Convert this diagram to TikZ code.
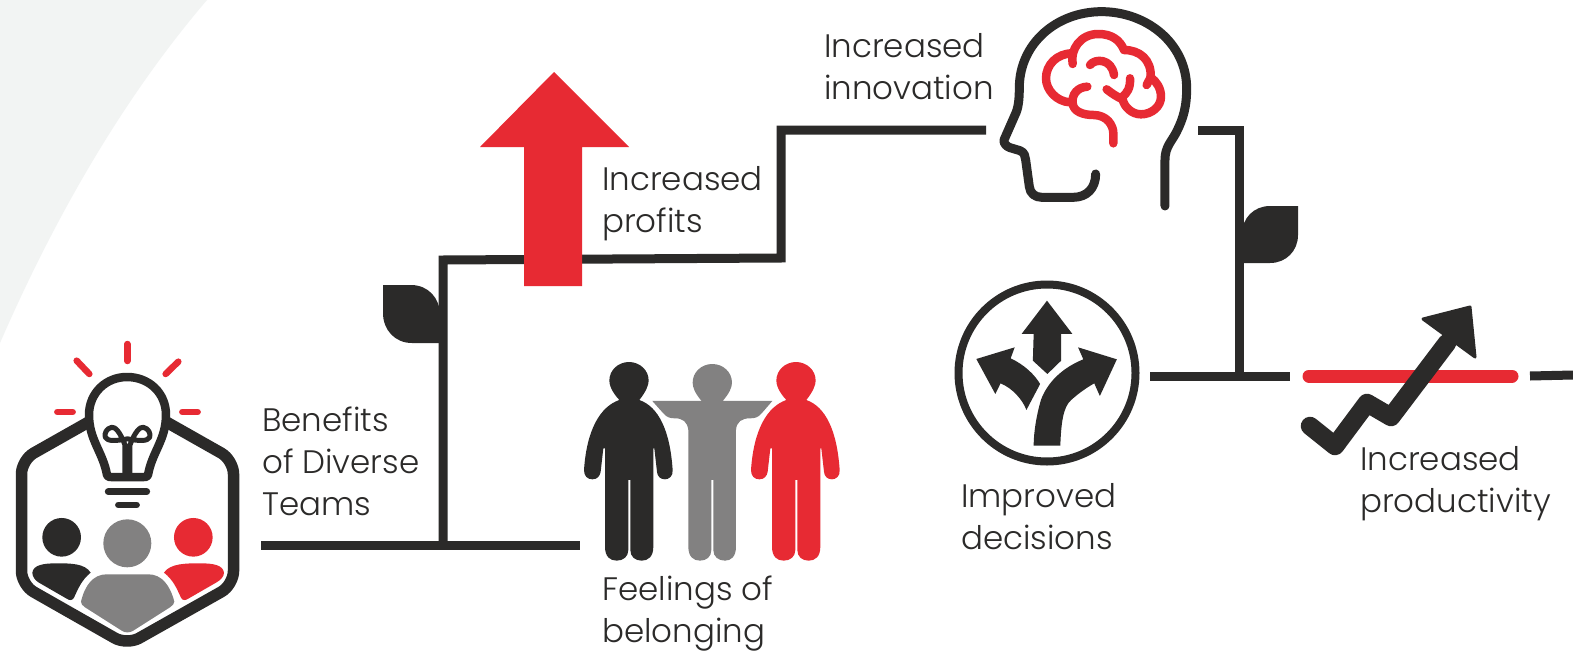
\documentclass[tikz,border=0pt]{standalone}
\usepackage{fontspec}
\setmainfont{Poppins Light}
\definecolor{ink}{HTML}{2B2A29}
\definecolor{accent}{HTML}{E72A33}
\definecolor{mid}{HTML}{828181}
\definecolor{paper}{HTML}{F2F4F3}
\newcommand{\personpath}{(148,150) .. controls (125,125) and (118,105) .. (118,92) .. controls (118,60) and (145,36) .. (177,36) .. controls (209,36) and (236,60) .. (236,92) .. controls (236,105) and (228,125) .. (208,150) .. controls (265,170) and (300,240) .. (308,360) .. controls (310,380) and (295,388) .. (285,388) .. controls (270,388) and (262,378) .. (261,365) -- (253,295) -- (250,295) -- (250,590) .. controls (250,620) and (235,632) .. (215,632) .. controls (195,632) and (181,620) .. (181,600) -- (181,390) -- (175,390) -- (175,600) .. controls (175,620) and (160,632) .. (140,632) .. controls (120,632) and (105,620) .. (105,590) -- (105,295) -- (100,295) -- (92,365) .. controls (90,378) and (82,388) .. (67,388) .. controls (52,388) and (42,378) .. (42,360) .. controls (50,240) and (90,170) .. (148,150) -- cycle}
\tikzset{
  conn/.style={draw=ink,line width=9pt},
  lbl/.style={anchor=north west,inner sep=0pt,align=left,text=ink,font=\fontsize{32.5}{42}\selectfont},
  ray/.style={draw=accent,line width=6.5pt,line cap=round},
  iconline/.style={draw=ink,line width=9pt,line cap=round,line join=round},
  brainline/.style={draw=accent,line width=8.5pt,line cap=round,line join=round},
  zoomA/.style={shift={(0,330)},x=0.3333pt,y=-0.3333pt},
  zoomB/.style={shift={(570,350)},x=0.3333pt,y=-0.3333pt},
  zoomC/.style={shift={(980,0)},x=0.3333pt,y=-0.3333pt},
  zoomD/.style={shift={(940,290)},x=0.4037pt,y=-0.3333pt},
}
\begin{document}
\begin{tikzpicture}[x=1pt,y=-1pt]
\useasboundingbox (0,0) rectangle (1573,661);
\fill[white] (0,0) rectangle (1573,661);
% background sweep
\fill[paper] (0,0) -- (207,0) .. controls (130,90) and (60,205) .. (0,343) -- cycle;

% connectors
\coordinate (start) at (261,545);
\coordinate (stub) at (580,545);
\coordinate (j1) at (443,545);
\coordinate (c1) at (443,260);
\coordinate (c2) at (781,258);
\coordinate (c3) at (781,130);
\coordinate (c4) at (986,130);
\coordinate (d1) at (1198,130);
\coordinate (d2) at (1239,130);
\coordinate (d3) at (1239,376);
\coordinate (e1) at (1150,376);
\coordinate (e2) at (1290,376);
\coordinate (r1) at (1309,376);
\coordinate (r2) at (1512,376);
\coordinate (f1) at (1530,376);
\coordinate (f2) at (1573,375);
\draw[conn] (start) -- (stub);
\draw[conn,line join=miter] (j1) -- (c1) -- (c2) -- (c3) -- (c4);
\draw[conn,line join=miter] (d1) -- (d2) -- (d3);
\draw[conn] (e1) -- (e2);
\draw[conn] (f1) -- (f2);
\draw[draw=accent,line width=13pt,line cap=round] (r1) -- (r2);

% leaves
\fill[ink] (383,285) -- (411,285) .. controls (428,285) and (440,298) .. (440,315) -- (440,343) -- (412,343) .. controls (395,343) and (383,330) .. (383,313) -- cycle;
\fill[ink] (1298,206) -- (1270,206) .. controls (1254,206) and (1242,218) .. (1242,234) -- (1242,263) -- (1270,263) .. controls (1286,263) and (1298,251) .. (1298,235) -- cycle;

% red arrow
\fill[accent] (554,72) -- (629,147) -- (582,147) -- (582,286) -- (524,286) -- (524,147) -- (480,147) -- cycle;

% hexagon icon
\draw[draw=ink,line width=11.5pt,rounded corners=14pt] (95,418.4) -- (21.5,460) -- (21.5,585) -- (127,645) -- (233.5,585) -- (233.5,460) -- (160,418.4);
\draw[draw=ink,line width=8.5pt,line join=round,fill=white] (107,475) .. controls (103,452) and (89,440) .. (89,415) .. controls (89,393) and (106,377) .. (127,377) .. controls (149,377) and (166,393) .. (166,415) .. controls (166,440) and (152,452) .. (148,475) .. controls (147,477) and (146,477) .. (144,477) -- (111,477) .. controls (109,477) and (108,477) .. (107,475) -- cycle;
\begin{scope}[zoomA]
\draw[draw=ink,line width=5pt,line join=round,line cap=round] (375,430) -- (375,345) .. controls (360,305) and (345,290) .. (335,292) .. controls (320,295) and (312,310) .. (316,322) .. controls (322,335) and (350,332) .. (375,328) .. controls (380,326) and (385,326) .. (390,328) .. controls (415,332) and (443,335) .. (449,322) .. controls (453,310) and (445,295) .. (430,292) .. controls (420,290) and (405,305) .. (390,345) -- (390,430);
\draw[draw=ink,line width=7pt,line cap=round] (325,485) -- (440,485);
\draw[draw=ink,line width=6.5pt,line cap=round] (355,525) -- (410,525);
\draw[ray] (382,42) -- (382,93);
\draw[ray] (230,92) -- (268,132);
\draw[ray] (535,95) -- (497,132);
\draw[ray] (172,246) -- (218,246);
\draw[ray] (547,246) -- (593,246);
\fill[ink] (185,622) circle[radius=58];
\fill[mid] (382,640) circle[radius=72];
\fill[accent] (580,622) circle[radius=58];
\fill[ink] (97,728) .. controls (100,705) and (130,700) .. (170,700) .. controls (210,700) and (255,700) .. (272,728) .. controls (245,750) and (235,775) .. (222,803) .. controls (218,812) and (208,812) .. (200,806) -- (115,757) .. controls (105,750) and (97,740) .. (97,728) -- cycle;
\fill[accent] (672,728) .. controls (669,705) and (640,700) .. (600,700) .. controls (560,700) and (510,700) .. (492,728) .. controls (520,750) and (530,775) .. (543,803) .. controls (547,812) and (557,812) .. (565,806) -- (650,757) .. controls (662,750) and (672,740) .. (672,728) -- cycle;
\fill[mid] (243,815) .. controls (255,765) and (280,733) .. (320,733) -- (445,733) .. controls (485,733) and (510,765) .. (523,815) .. controls (523,822) and (518,826) .. (510,832) -- (400,902) .. controls (390,909) and (375,909) .. (365,902) -- (255,832) .. controls (247,826) and (243,822) .. (243,815) -- cycle;
\end{scope}

% people
\begin{scope}[zoomB]
\fill[ink] \personpath;
\begin{scope}[xshift=167pt]
\fill[accent] \personpath;
\end{scope}
\fill[mid] (395,153) .. controls (375,130) and (368,112) .. (368,98) .. controls (368,66) and (395,42) .. (427,42) .. controls (459,42) and (486,66) .. (486,98) .. controls (486,112) and (478,130) .. (458,153) -- (607,153) -- (575,190) .. controls (565,202) and (555,205) .. (540,205) .. controls (515,205) and (500,215) .. (498,240) -- (498,590) .. controls (498,620) and (483,632) .. (465,632) .. controls (445,632) and (430,620) .. (430,600) -- (430,390) -- (424,390) -- (424,600) .. controls (424,620) and (410,632) .. (390,632) .. controls (370,632) and (355,620) .. (355,590) -- (355,240) .. controls (352,215) and (338,205) .. (315,205) .. controls (300,205) and (290,202) .. (280,190) -- (247,153) -- cycle;
\end{scope}

% head and brain
\begin{scope}[zoomC]
\draw[iconline] (555,618) -- (555,480) .. controls (555,440) and (575,425) .. (590,395) .. controls (610,355) and (620,320) .. (620,265) .. controls (620,130) and (500,35) .. (365,35) .. controls (230,35) and (120,130) .. (118,260) .. controls (118,300) and (115,325) .. (105,345) -- (72,420) .. controls (70,430) and (80,440) .. (90,443) -- (120,452) .. controls (135,458) and (135,470) .. (137,480) -- (148,560) .. controls (150,580) and (165,592) .. (185,592) -- (280,592) .. controls (320,592) and (347,565) .. (347,522);
\draw[brainline] (278,192) .. controls (270,150) and (300,102) .. (355,102) .. controls (395,102) and (420,120) .. (432,150) .. controls (480,150) and (515,180) .. (512,232) .. controls (530,245) and (543,265) .. (543,290) .. controls (543,320) and (515,343) .. (483,343) .. controls (455,343) and (432,320) .. (428,298) .. controls (410,290) and (395,280) .. (380,268);
\draw[brainline] (278,160) .. controls (230,160) and (198,195) .. (198,235) .. controls (198,270) and (230,305) .. (270,307);
\draw[brainline] (322,260) .. controls (290,262) and (275,285) .. (278,310) .. controls (280,335) and (310,345) .. (340,345) .. controls (380,345) and (400,375) .. (400,400) -- (400,430);
\draw[brainline] (330,195) .. controls (345,175) and (395,175) .. (402,225);
\draw[brainline] (450,235) .. controls (452,265) and (440,280) .. (428,290);
\draw[brainline] (512,232) -- (500,255);
\end{scope}

% decision icon
\draw[draw=ink,line width=8pt] (1047,373) circle[radius=88.5];
\begin{scope}[zoomD]
\fill[ink] (265,32) -- (328,132) -- (300,132) -- (300,212) -- (266,252) -- (230,212) -- (232,132) -- (202,132) -- cycle;
\fill[ink] (90,207) -- (185,172) -- (175,205) .. controls (210,225) and (235,255) .. (248,282) -- (214,360) .. controls (205,330) and (180,295) .. (150,280) -- (137,312) -- cycle;
\fill[ink] (438,208) -- (342,172) -- (355,208) .. controls (300,235) and (265,280) .. (250,330) .. controls (238,380) and (232,430) .. (232,467) -- (298,467) .. controls (300,400) and (305,350) .. (325,330) .. controls (345,308) and (365,292) .. (382,280) -- (396,318) -- cycle;
\end{scope}

% growth arrow
\draw[draw=ink,line width=18.5pt,line join=round,line cap=round] (1310,426) -- (1335,446) -- (1367,403) -- (1391,417) -- (1447,343);
\fill[ink,draw=ink,line width=3pt,line join=round] (1423,319) -- (1470,307) -- (1475,357) -- cycle;

% labels
\node[lbl] (tinnov) at (824,33) {Increased\\innovation};
\node[lbl] (tprofit) at (602,166) {Increased\\profits};
\node[lbl] (tbenefit) at (262,407) {Benefits\\of Diverse\\Teams};
\node[lbl] (tbelong) at (602,576) {Feelings of\\belonging};
\node[lbl] (tdecide) at (961,483) {Improved\\decisions};
\node[lbl] (tprod) at (1360,446) {Increased\\productivity};
\end{tikzpicture}
\end{document}
